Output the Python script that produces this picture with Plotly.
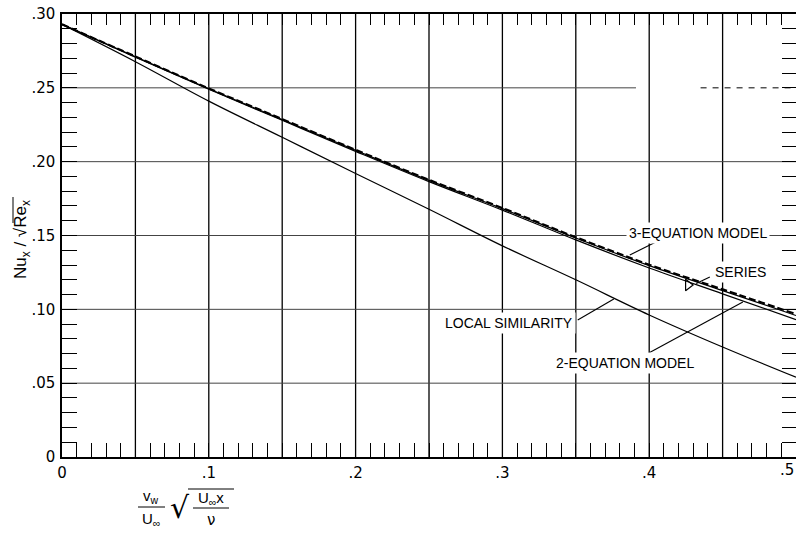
import plotly.graph_objects as go

# Wall suction / blowing parameter  (v_w/U_inf) * sqrt(U_inf x / nu)
xi = [0.0, 0.05, 0.10, 0.15, 0.20, 0.25, 0.30, 0.35, 0.40, 0.45, 0.50]

# Nu_x / sqrt(Re_x) for each method
three_eq = [0.293, 0.2712, 0.2496, 0.2288, 0.2080, 0.1877, 0.1686, 0.1488, 0.1302, 0.1135, 0.0968]
series = [0.293, 0.2710, 0.2494, 0.2285, 0.2077, 0.1873, 0.1682, 0.1483, 0.1296, 0.1127, 0.0958]
two_eq = [0.293, 0.2708, 0.2490, 0.2280, 0.2070, 0.1865, 0.1672, 0.1470, 0.1280, 0.1105, 0.0930]
local_sim = [0.293, 0.2677, 0.2410, 0.2165, 0.1920, 0.1678, 0.1430, 0.1200, 0.0962, 0.0745, 0.0540]

# labelled ticks, grid lines and fine tick marks
x_label_vals = [0.0, 0.1, 0.2, 0.3, 0.4]
x_label_text = ["0", ".1", ".2", ".3", ".4"]
x_end_val, x_end_text = 0.5, ".5"   # last label sits flush with the right edge
y_label_vals = [0.0, 0.05, 0.10, 0.15, 0.20, 0.25, 0.30]
y_label_text = ["0", ".05", ".10", ".15", ".20", ".25", ".30"]
x_grid = [0.05, 0.10, 0.15, 0.20, 0.25, 0.30, 0.35, 0.40, 0.45]
y_grid = [0.05, 0.10, 0.15, 0.20, 0.25]
x_fine = [i / 100 for i in range(51)]
y_fine = [i / 100 for i in range(31)]

X_RANGE = [0, 0.5]
Y_RANGE = [0, 0.30]

TICK_FONT = dict(family="DejaVu Sans", size=15, color="black")
LABEL_FONT = dict(family="Liberation Sans", size=14, color="black")


def label_for(v, vals, texts):
    for val, t in zip(vals, texts):
        if abs(val - v) < 1e-9:
            return t
    return ""


fig = go.Figure()

line_thin = dict(color="black", width=1.2, shape="spline")
fig.add_trace(go.Scatter(x=xi, y=local_sim, mode="lines", line=line_thin,
                         xaxis="x2", yaxis="y2", showlegend=False, hoverinfo="skip"))
fig.add_trace(go.Scatter(x=xi, y=two_eq, mode="lines", line=line_thin, showlegend=False))
fig.add_trace(go.Scatter(x=xi, y=series, mode="lines", line=line_thin, showlegend=False))
fig.add_trace(go.Scatter(x=xi, y=three_eq, mode="lines",
                         line=dict(color="black", width=2.2, shape="spline", dash="7px,3px"),
                         showlegend=False))

# open triangle tagging the series curve
fig.add_trace(go.Scatter(x=[0.4265], y=[0.1165], mode="markers",
                         marker=dict(symbol="triangle-right-open", size=10, color="black", line=dict(width=1.2)),
                         showlegend=False))

line_style = dict(showline=True, linecolor="black", linewidth=1.5, zeroline=False, showgrid=False)
tick_style = dict(ticks="inside", tickwidth=1.2, tickcolor="black")

fig.update_layout(
    width=798, height=536,
    margin=dict(l=62, r=2, t=14, b=79),
    paper_bgcolor="white", plot_bgcolor="white",
    xaxis=dict(range=X_RANGE, tickmode="array", tickvals=x_fine,
               ticktext=[label_for(v, x_label_vals, x_label_text) for v in x_fine],
               ticklen=14, tickfont=TICK_FONT, ticklabelstandoff=1,
               automargin=False, **tick_style, **line_style),
    yaxis=dict(range=Y_RANGE, tickmode="array", tickvals=y_fine,
               ticktext=[label_for(v, y_label_vals, y_label_text) for v in y_fine],
               ticklen=15, tickfont=TICK_FONT, ticklabelstandoff=2, ticklabeloverflow="allow",
               automargin=False, **tick_style, **line_style),
    xaxis2=dict(range=X_RANGE, overlaying="x", side="top", anchor="y2",
                tickmode="array", tickvals=x_fine, ticklen=11, showticklabels=False,
                automargin=False, **tick_style, **line_style),
    yaxis2=dict(range=Y_RANGE, overlaying="y", side="right", anchor="x2",
                tickmode="array", tickvals=y_fine, ticklen=14, showticklabels=False,
                ticks="inside", tickwidth=1.2, tickcolor="black", automargin=False,
                showline=False, zeroline=False, showgrid=False),
)

fig.add_annotation(x=x_end_val, y=0, xref="x", yref="paper", text=x_end_text, showarrow=False,
                   xanchor="right", yanchor="top", yshift=-2, font=TICK_FONT)

# grid lines: vertical ones dark, horizontal ones lighter
for gx in x_grid:
    fig.add_shape(type="line", xref="x", yref="paper", x0=gx, x1=gx, y0=0, y1=1,
                  line=dict(color="black", width=1.3), layer="below")
for gy in y_grid:
    if abs(gy - 0.25) < 1e-9:
        # this line is broken and dashed toward the upper right
        fig.add_shape(type="line", xref="x", yref="y", x0=0, x1=0.391, y0=gy, y1=gy,
                      line=dict(color="#444", width=1), layer="below")
        fig.add_shape(type="line", xref="x", yref="y", x0=0.435, x1=0.5, y0=gy, y1=gy,
                      line=dict(color="black", width=1, dash="6px,6px"), layer="below")
    else:
        fig.add_shape(type="line", xref="paper", yref="y", x0=0, x1=1, y0=gy, y1=gy,
                      line=dict(color="#444", width=1), layer="below")

# labels with leader lines
labels = [
    ("3-EQUATION MODEL", 0.4332, 0.1519, (0.4045, 0.1456), (0.3868, 0.1368)),
    ("SERIES", 0.4620, 0.1253, (0.4413, 0.1219), (0.4320, 0.1175)),
    ("LOCAL SIMILARITY", 0.3046, 0.0910, (0.3513, 0.0928), (0.3759, 0.1070)),
    ("2-EQUATION MODEL", 0.3834, 0.0639, (0.3997, 0.0704), (0.4638, 0.1050)),
]
for text, tx, ty, p0, p1 in labels:
    fig.add_shape(type="line", xref="x", yref="y", x0=p0[0], y0=p0[1], x1=p1[0], y1=p1[1],
                  line=dict(color="black", width=1.1))
    fig.add_annotation(x=tx, y=ty, xref="x", yref="y", text=text, showarrow=False,
                       font=LABEL_FONT, bgcolor="white", borderpad=2)


def px(xp):
    return (xp - 62) / 734.0


def py(yp):
    return (457 - yp) / 443.0


# y-axis title: Nu_x / sqrt(Re_x), the radical's bar drawn as a line
fig.add_annotation(x=px(22), y=py(240), xref="paper", yref="paper", xanchor="center", yanchor="middle",
                   textangle=-90, text="Nu<sub>x</sub> / √Re<sub>x</sub>", showarrow=False,
                   font=dict(family="Liberation Sans", size=17, color="black"))
fig.add_shape(type="line", xref="paper", yref="paper", x0=px(13), x1=px(13), y0=py(223), y1=py(197),
              line=dict(color="black", width=1))

# x-axis title: (v_w / U_inf) * sqrt(U_inf x / nu)
XT_FONT = dict(family="Liberation Sans", size=15, color="black")
ann = dict(xref="paper", yref="paper", xanchor="center", yanchor="middle", showarrow=False)
fig.add_annotation(x=px(151), y=py(496), text="v<sub>w</sub>", font=XT_FONT, **ann)
fig.add_shape(type="line", xref="paper", yref="paper", x0=px(138), x1=px(165), y0=py(507), y1=py(507),
              line=dict(color="black", width=1))
fig.add_annotation(x=px(151), y=py(519), text="U<sub>∞</sub>", font=XT_FONT, **ann)
fig.add_annotation(x=px(180), y=py(507), text="√", font=dict(family="DejaVu Sans", size=30, color="black"), **ann)
fig.add_shape(type="line", xref="paper", yref="paper", x0=px(188), x1=px(234), y0=py(489), y1=py(489),
              line=dict(color="black", width=1))
fig.add_annotation(x=px(211), y=py(498), text="U<sub>∞</sub>x", font=XT_FONT, **ann)
fig.add_shape(type="line", xref="paper", yref="paper", x0=px(193), x1=px(229), y0=py(508), y1=py(508),
              line=dict(color="black", width=1))
fig.add_annotation(x=px(211), y=py(520), text="ν", font=dict(family="DejaVu Sans", size=15, color="black"), **ann)

fig.write_html("out.html")
